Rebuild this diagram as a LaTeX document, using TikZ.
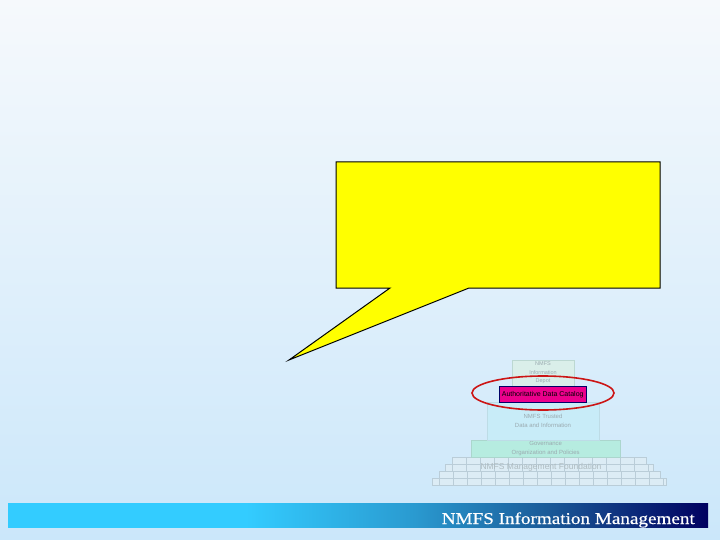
\documentclass[tikz,border=0pt]{standalone}
\usepackage{fontspec}
\usetikzlibrary{shapes.geometric}
\setmainfont{Liberation Serif}
\newfontfamily\pyrfont{Liberation Sans}
\newfontfamily\barfont{Liberation Serif}[FakeStretch=1.16, FakeBold=0.6]
\definecolor{bgtop}{HTML}{F6F9FC}
\definecolor{bgbot}{HTML}{CBE7FA}
\definecolor{cyanA}{HTML}{33CCFF}
\definecolor{cyanB}{HTML}{2A9AD0}
\definecolor{blueC}{HTML}{1A5A98}
\definecolor{navyD}{HTML}{000060}
\definecolor{callyel}{HTML}{FFFF00}
\definecolor{depotfill}{HTML}{DAEFEA}
\definecolor{depotline}{HTML}{BCD8D2}
\definecolor{trustfill}{HTML}{C8ECF8}
\definecolor{govfill}{HTML}{B6ECE0}
\definecolor{brickfill}{HTML}{DCECF5}
\definecolor{brickline}{HTML}{BACDD8}
\definecolor{fainttext}{HTML}{9AAAB0}
\definecolor{ringred}{HTML}{CC1515}
\pgfdeclarehorizontalshading{barshade}{100bp}{color(0bp)=(cyanA); color(42bp)=(cyanA); color(54bp)=(cyanB); color(63.5bp)=(blueC); color(75bp)=(navyD); color(100bp)=(navyD)}
\begin{document}
\begin{tikzpicture}[x=1pt,y=-1pt,
  layer/.style={draw=depotline, line width=0.4pt, inner sep=0pt, font=\pyrfont\fontsize{6}{8.5}\selectfont, text=fainttext, align=center},
  brick/.style={draw=brickline, fill=brickfill, line width=0.3pt}]
\useasboundingbox (0,0) rectangle (720,540);
\shade[top color=bgtop, bottom color=bgbot] (0,0) rectangle (720,540);
% bottom bar
\node[shading=barshade, minimum width=700pt, minimum height=24pt, inner sep=0pt, anchor=north west] (bar) at (8,503) {};
\node[anchor=base east, text=white, font=\barfont\fontsize{16.5}{19}\selectfont, inner sep=0pt] (bartext) at (695,524) {NMFS Information Management};
% callout
\coordinate (c1) at (336,162);
\coordinate (c2) at (660,162);
\coordinate (c3) at (660,288);
\coordinate (c4) at (469,288);
\coordinate (tip) at (289,360);
\coordinate (c5) at (390,288);
\coordinate (c6) at (336,288);
\draw[fill=callyel, line width=1pt, line join=miter] (c1) -- (c2) -- (c3) -- (c4) -- (tip) -- (c5) -- (c6) -- cycle;
% bricks
\foreach \y/\xa/\xb/\off in {457/452/646/0, 464/445/653/7, 471/439/660/0, 478/432/666/7}{
  \pgfmathsetmacro{\yb}{\y+7}
  \fill[brickfill] (\xa,\y) rectangle (\xb,\yb);
  \foreach \k in {0,...,18}{
    \pgfmathsetmacro{\bx}{\xa+\off+\k*14-14}
    \pgfmathsetmacro{\bl}{max(\bx,\xa)}
    \pgfmathsetmacro{\br}{min(\bx+14,\xb)}
    \ifdim \br pt>\bl pt
      \draw[brick] (\bl,\y) rectangle (\br,\yb);
    \fi
  }
}
\node[font=\pyrfont\fontsize{8.5}{9}\selectfont, text=fainttext!80!white, inner sep=0pt] (found) at (541,467.5) {NMFS Management Foundation};
% layers
\node[layer, fill=govfill, minimum width=149pt, minimum height=17pt, anchor=north west, draw=govfill!80!gray] (gov) at (471,440) {};
\node[layer, draw=none, fill=none] (govtext) at (gov.center) {Governance\\Organization and Policies};
\node[layer, fill=trustfill, minimum width=112pt, minimum height=38pt, anchor=north west, draw=trustfill!85!gray] (trust) at (487,402) {};
\node[layer, draw=none, fill=none] (trusttext) at (543,421) {NMFS Trusted\\Data and Information};
\node[layer, fill=depotfill, minimum width=62pt, minimum height=26pt, anchor=north west] (depot) at (512,360) {};
\node[layer, draw=none, fill=none, font=\pyrfont\fontsize{5.5}{8.5}\selectfont] (depottext) at (543,373) {NMFS\\Information\\Depot};
\node[draw=black!60!blue, fill=magenta, minimum width=87pt, minimum height=16pt, anchor=north west, inner sep=0pt, font=\pyrfont\fontsize{7}{8}\selectfont] (cat) at (499,386) {Authoritative Data Catalog};
\node[draw=ringred, line width=1.6pt, ellipse, minimum width=142pt, minimum height=34pt, inner sep=0pt] (ring) at (543,393) {};
\end{tikzpicture}
\end{document}
